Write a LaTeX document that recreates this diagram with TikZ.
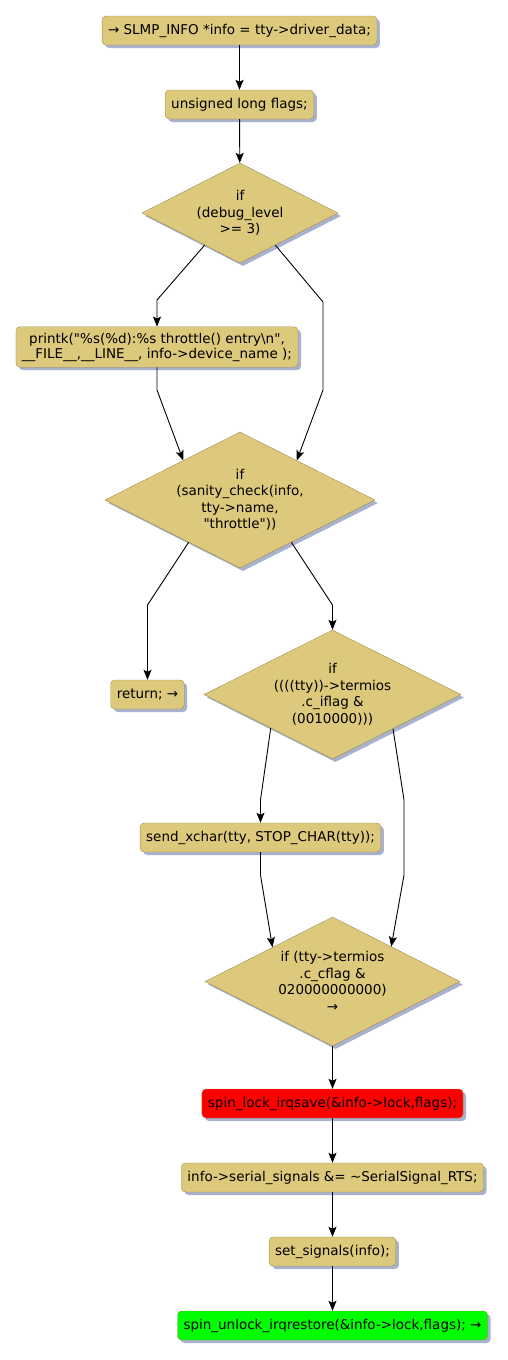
\documentclass[tikz,border=0pt]{standalone}
\usepackage{fontspec}
\setmainfont{DejaVu Sans}[Ligatures=TeXOff]
\usetikzlibrary{shapes.geometric,arrows.meta,calc,shadows}
\definecolor{actfill}{RGB}{221,201,123}
\definecolor{actline}{RGB}{160,140,72}
\definecolor{actshadow}{RGB}{168,178,206}
\definecolor{lockred}{RGB}{255,0,0}
\definecolor{unlockgreen}{RGB}{0,255,0}
\tikzset{
  act/.style={draw=actline,fill=actfill,rounded corners=4pt,inner xsep=6pt,inner ysep=6pt,
    minimum height=29pt,align=center,font=\fontsize{13.5}{15}\selectfont,
    drop shadow={shadow xshift=3pt,shadow yshift=-3pt,fill=actshadow,opacity=1}},
  dec/.style={diamond,draw=actline,fill=actfill,aspect=2,inner sep=0pt,align=center,
    font=\fontsize{13.5}{16.5}\selectfont,
    drop shadow={shadow xshift=3pt,shadow yshift=-3pt,fill=actshadow,opacity=1}},
  flow/.style={->,line width=0.9pt}
}

\begin{document}
\begin{tikzpicture}[x=1pt,y=-1pt,>={Stealth[length=10pt,width=8pt,inset=2pt]},line join=round]
  \useasboundingbox (0,0) rectangle (508,1360);
  % activities and decisions
  \node[act] (entry) at (239.5,30.5) {→ SLMP\_INFO *info = tty->driver\_data;};
  \node[act] (flags) at (239.5,104.5) {unsigned long flags;};
  \node[dec,minimum width=196pt,minimum height=100pt] (dbg) at (240,213) {if\\(debug\_level\\>= 3)};
  \node[act] (printk) at (157,347) {printk("\%s(\%d):\%s throttle() entry\textbackslash n",\\\_\_FILE\_\_,\_\_LINE\_\_, info->device\_name );};
  \node[dec,minimum width=270pt,minimum height=136pt] (sanity) at (240,500) {if\\(sanity\_check(info,\\tty->name,\\"throttle"))};
  \node[act] (ret) at (147.5,694.5) {return; →};
  \node[dec,minimum width=257pt,minimum height=129pt] (iflag) at (332.5,694.5) {if\\((((tty))->termios\\.c\_iflag \&\\(0010000)))};
  \node[act] (xchar) at (260.5,837.5) {send\_xchar(tty, STOP\_CHAR(tty));};
  \node[dec,minimum width=255pt,minimum height=129pt] (cflag) at (332.5,981.5) {if (tty->termios\\.c\_cflag \&\\020000000000)\\→};
  \node[act,fill=lockred] (lock) at (332.5,1103.5) {spin\_lock\_irqsave(\&info->lock,flags);};
  \node[act] (rts) at (332.5,1177.5) {info->serial\_signals \&= \textasciitilde SerialSignal\_RTS;};
  \node[act] (setsig) at (332.5,1251.5) {set\_signals(info);};
  \node[act,fill=unlockgreen] (unlock) at (332.5,1325.5) {spin\_unlock\_irqrestore(\&info->lock,flags); →};
  % connectors
  \draw[flow] (entry) -- (flags);
  \draw[flow] (flags) -- (dbg);
  \draw[flow] ($(dbg.west)!0.64!(dbg.south)$) -- (157,300) -- (printk);
  \draw[flow] ($(dbg.east)!0.64!(dbg.south)$) -- (323,302) -- (323,390) -- ($(sanity.east)!0.58!(sanity.north)$);
  \draw[flow] (printk) -- (157,390) -- ($(sanity.west)!0.58!(sanity.north)$);
  \draw[flow] ($(sanity.west)!0.62!(sanity.south)$) -- (147.5,605) -- (ret);
  \draw[flow] ($(sanity.east)!0.62!(sanity.south)$) -- (332.5,605) -- (iflag);
  \draw[flow] ($(iflag.west)!0.52!(iflag.south)$) -- (260.5,800) -- (xchar);
  \draw[flow] ($(iflag.east)!0.53!(iflag.south)$) -- (404,800) -- (404,875) -- ($(cflag.east)!0.54!(cflag.north)$);
  \draw[flow] (xchar) -- (260.5,875) -- ($(cflag.west)!0.53!(cflag.north)$);
  \draw[flow] (cflag) -- (lock);
  \draw[flow] (lock) -- (rts);
  \draw[flow] (rts) -- (setsig);
  \draw[flow] (setsig) -- (unlock);
\end{tikzpicture}
\end{document}
